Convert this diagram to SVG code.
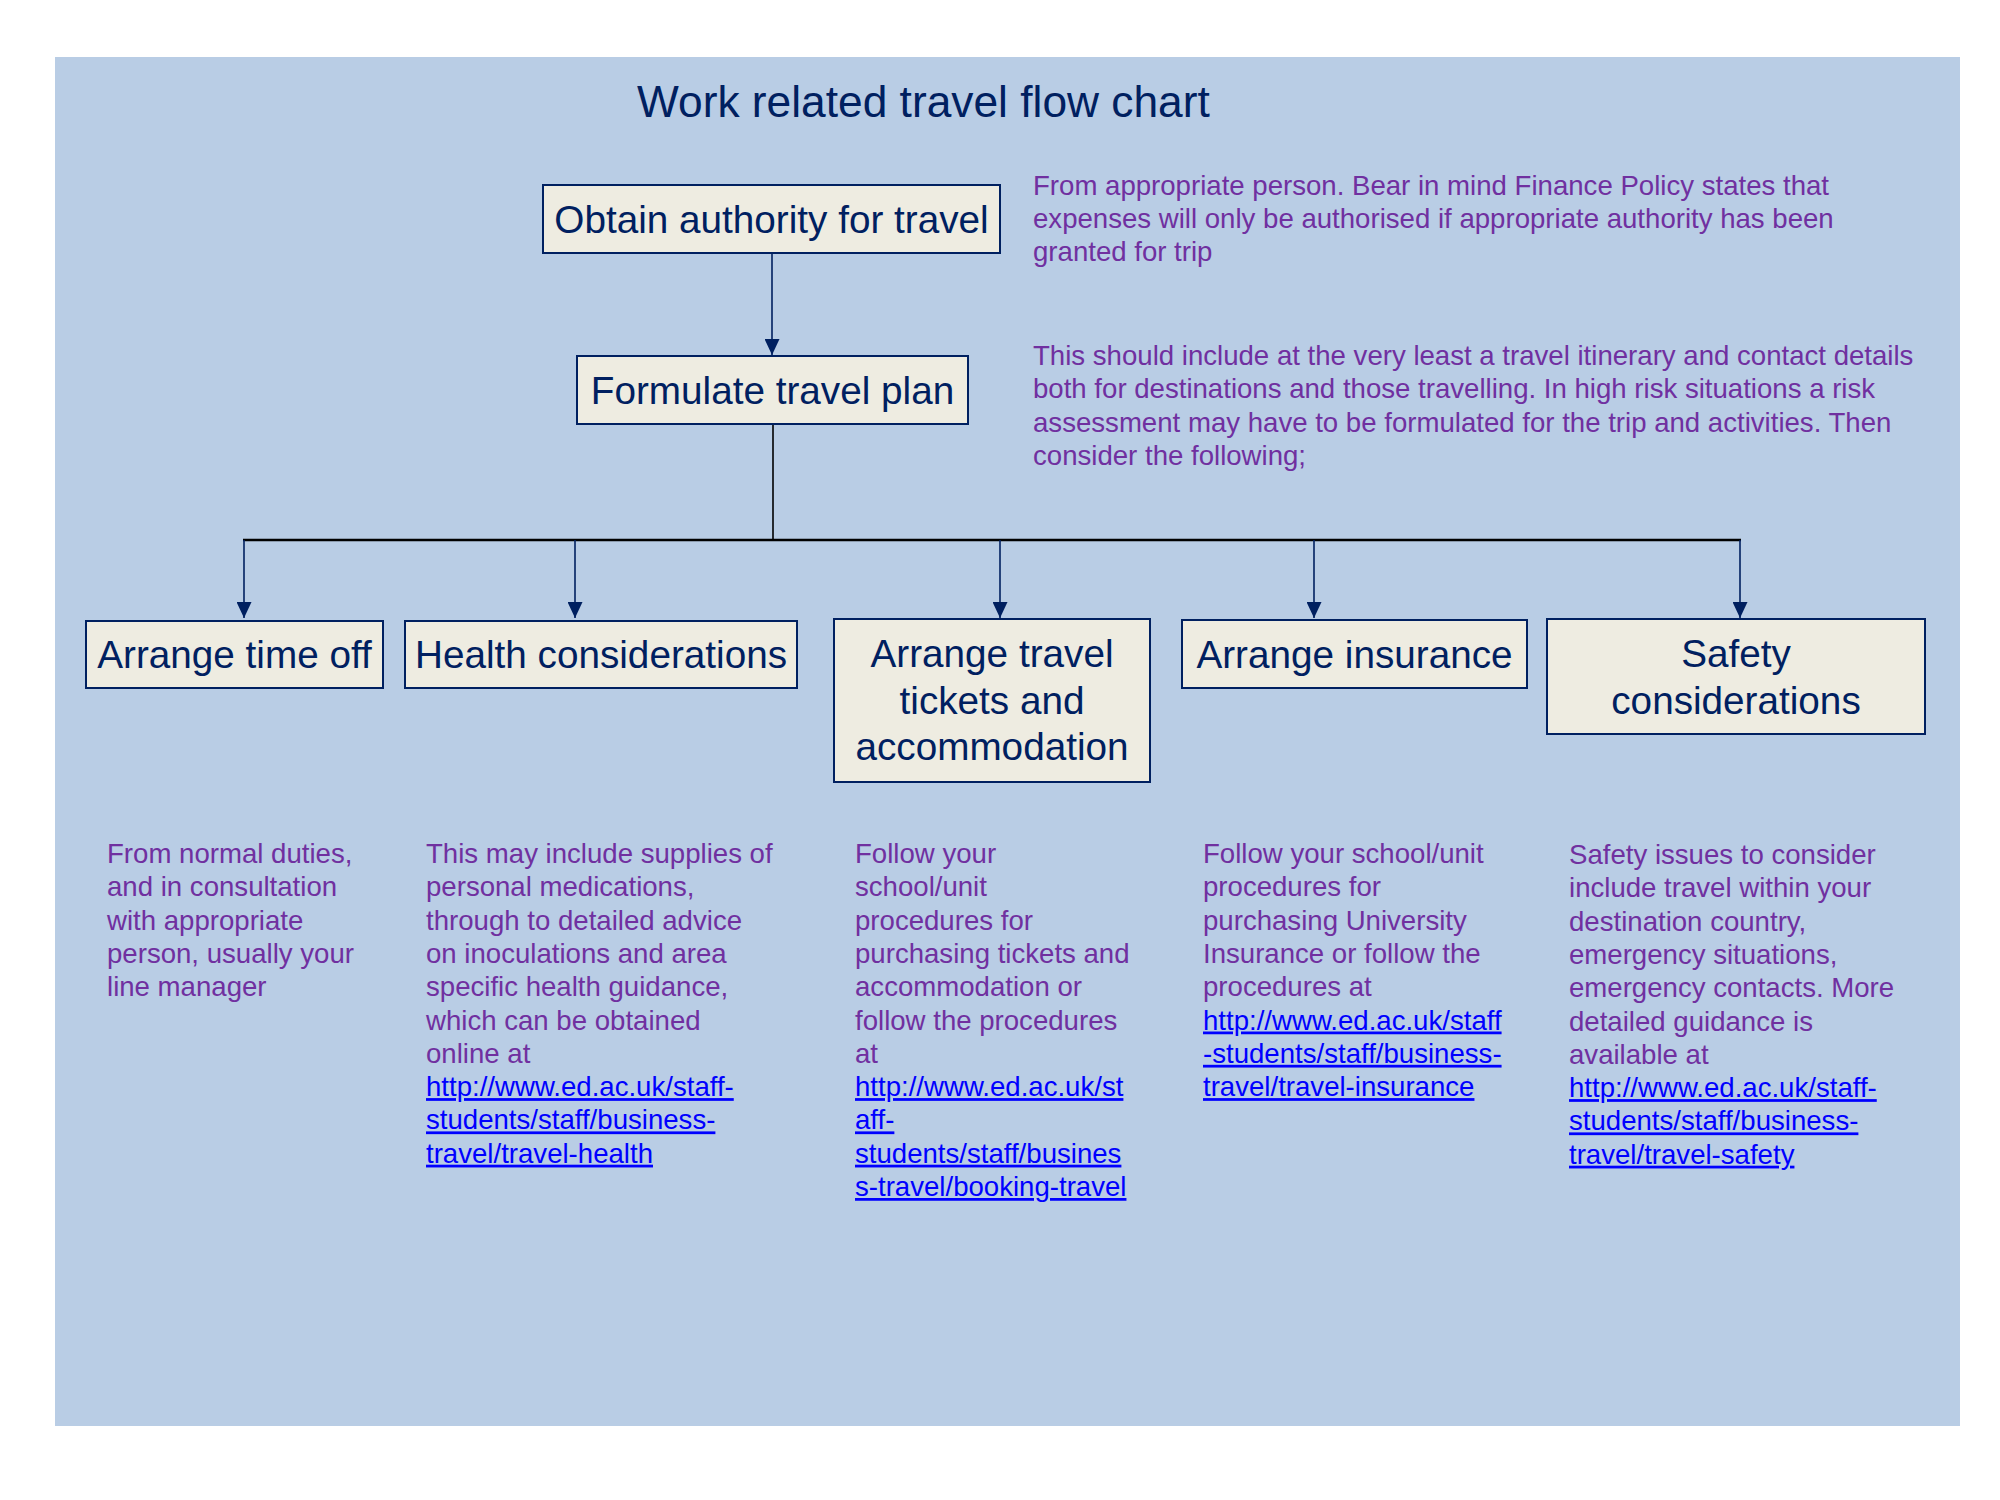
<svg xmlns="http://www.w3.org/2000/svg" width="2000" height="1500" viewBox="0 0 2000 1500">
<defs>
<style>
.node rect{fill:#eeece1;stroke:#002060;stroke-width:2}
.lbl{font-family:"Liberation Sans",Arial,sans-serif;font-size:38.7px;fill:#002060;text-anchor:middle}
.note{font-family:"Liberation Sans",Arial,sans-serif;font-size:27.6px;fill:#7030a0}
.link{fill:#0000ff;text-decoration:underline}
.title{font-family:"Liberation Sans",Arial,sans-serif;font-size:44.3px;fill:#002060}
.drop{stroke:#002060;stroke-width:1.6;fill:none;marker-end:url(#arr)}
.blk{stroke:#000;fill:none}
</style>
<marker id="arr" markerUnits="userSpaceOnUse" markerWidth="16" markerHeight="15" refX="16" refY="7.5" orient="auto">
<path d="M0,0 L16,7.5 L0,15 z" fill="#002060"/>
</marker>
</defs>
<rect x="0" y="0" width="2000" height="1500" fill="#ffffff"/>
<rect x="55" y="57" width="1905" height="1369" fill="#b9cde5"/>
<text class="title" x="637" y="117">Work related travel flow chart</text>

<g id="connectors">
<line class="drop" x1="772" y1="253" x2="772" y2="355"/>
<line class="blk" x1="773" y1="424" x2="773" y2="540" stroke-width="1.6"/>
<line class="blk" x1="243" y1="540" x2="1741" y2="540" stroke-width="2.4"/>
<line class="drop" x1="244" y1="540" x2="244" y2="618"/>
<line class="drop" x1="575" y1="540" x2="575" y2="618"/>
<line class="drop" x1="1000" y1="540" x2="1000" y2="618"/>
<line class="drop" x1="1314" y1="540" x2="1314" y2="618"/>
<line class="drop" x1="1740" y1="540" x2="1740" y2="618"/>
</g>

<g id="obtain" class="node">
<rect x="543" y="185" width="457" height="68"/>
<text class="lbl" x="771.5" y="233">Obtain authority for travel</text>
</g>
<g id="formulate" class="node">
<rect x="577" y="356" width="391" height="68"/>
<text class="lbl" x="772.5" y="404">Formulate travel plan</text>
</g>
<g id="timeoff" class="node">
<rect x="86" y="621" width="297" height="67"/>
<text class="lbl" x="234.5" y="668">Arrange time off</text>
</g>
<g id="health" class="node">
<rect x="405" y="621" width="392" height="67"/>
<text class="lbl" x="601" y="668">Health considerations</text>
</g>
<g id="tickets" class="node">
<rect x="834" y="619" width="316" height="163"/>
<text class="lbl" x="992" y="667">Arrange travel<tspan x="992" dy="46.5">tickets and</tspan><tspan x="992" dy="46.5">accommodation</tspan></text>
</g>
<g id="insurance" class="node">
<rect x="1182" y="620" width="345" height="68"/>
<text class="lbl" x="1354.5" y="668">Arrange insurance</text>
</g>
<g id="safety" class="node">
<rect x="1547" y="619" width="378" height="115"/>
<text class="lbl" x="1736" y="667">Safety<tspan x="1736" dy="46.5">considerations</tspan></text>
</g>

<g id="note-obtain">
<text class="note" x="1033" y="195">From appropriate person. Bear in mind Finance Policy states that<tspan x="1033" dy="33">expenses will only be authorised if appropriate authority has been</tspan><tspan x="1033" dy="33">granted for trip</tspan></text>
</g>
<g id="note-formulate">
<text class="note" x="1033" y="365">This should include at the very least a travel itinerary and contact details<tspan x="1033" dy="33.3">both for destinations and those travelling. In high risk situations a risk</tspan><tspan x="1033" dy="33.3">assessment may have to be formulated for the trip and activities. Then</tspan><tspan x="1033" dy="33.3">consider the following;</tspan></text>
</g>

<g id="note-timeoff">
<text class="note" x="107" y="863">From normal duties,<tspan x="107" dy="33.3">and in consultation</tspan><tspan x="107" dy="33.3">with appropriate</tspan><tspan x="107" dy="33.3">person, usually your</tspan><tspan x="107" dy="33.3">line manager</tspan></text>
</g>
<g id="note-health">
<text class="note" x="426" y="863">This may include supplies of<tspan x="426" dy="33.3">personal medications,</tspan><tspan x="426" dy="33.3">through to detailed advice</tspan><tspan x="426" dy="33.3">on inoculations and area</tspan><tspan x="426" dy="33.3">specific health guidance,</tspan><tspan x="426" dy="33.3">which can be obtained</tspan><tspan x="426" dy="33.3">online at</tspan><tspan class="link" x="426" dy="33.3">http://www.ed.ac.uk/staff-</tspan><tspan class="link" x="426" dy="33.3">students/staff/business-</tspan><tspan class="link" x="426" dy="33.3">travel/travel-health</tspan></text>
</g>
<g id="note-tickets">
<text class="note" x="855" y="863">Follow your<tspan x="855" dy="33.3">school/unit</tspan><tspan x="855" dy="33.3">procedures for</tspan><tspan x="855" dy="33.3">purchasing tickets and</tspan><tspan x="855" dy="33.3">accommodation or</tspan><tspan x="855" dy="33.3">follow the procedures</tspan><tspan x="855" dy="33.3">at</tspan><tspan class="link" x="855" dy="33.3">http://www.ed.ac.uk/st</tspan><tspan class="link" x="855" dy="33.3">aff-</tspan><tspan class="link" x="855" dy="33.3">students/staff/busines</tspan><tspan class="link" x="855" dy="33.3">s-travel/booking-travel</tspan></text>
</g>
<g id="note-insurance">
<text class="note" x="1203" y="863">Follow your school/unit<tspan x="1203" dy="33.3">procedures for</tspan><tspan x="1203" dy="33.3">purchasing University</tspan><tspan x="1203" dy="33.3">Insurance or follow the</tspan><tspan x="1203" dy="33.3">procedures at</tspan><tspan class="link" x="1203" dy="33.3">http://www.ed.ac.uk/staff</tspan><tspan class="link" x="1203" dy="33.3">-students/staff/business-</tspan><tspan class="link" x="1203" dy="33.3">travel/travel-insurance</tspan></text>
</g>
<g id="note-safety">
<text class="note" x="1569" y="864">Safety issues to consider<tspan x="1569" dy="33.3">include travel within your</tspan><tspan x="1569" dy="33.3">destination country,</tspan><tspan x="1569" dy="33.3">emergency situations,</tspan><tspan x="1569" dy="33.3">emergency contacts. More</tspan><tspan x="1569" dy="33.3">detailed guidance is</tspan><tspan x="1569" dy="33.3">available at</tspan><tspan class="link" x="1569" dy="33.3">http://www.ed.ac.uk/staff-</tspan><tspan class="link" x="1569" dy="33.3">students/staff/business-</tspan><tspan class="link" x="1569" dy="33.3">travel/travel-safety</tspan></text>
</g>
</svg>
